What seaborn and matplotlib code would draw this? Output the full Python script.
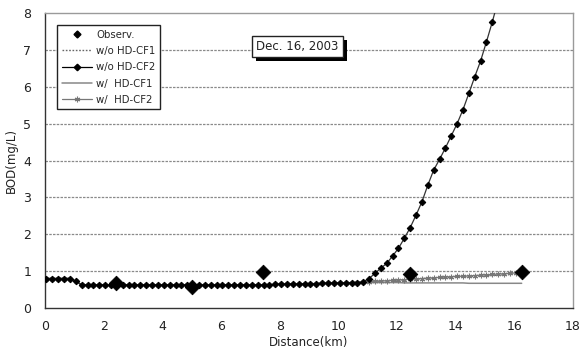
import matplotlib
matplotlib.use("Agg")
import matplotlib.pyplot as plt
import matplotlib.patheffects as pe
from matplotlib.lines import Line2D
import seaborn as sns
import pandas as pd

# ---------------- data ----------------
distance = [0.05, 0.25, 0.45, 0.65, 0.85, 1.05, 1.25, 1.45, 1.65, 1.85,
            2.05, 2.25, 2.45, 2.65, 2.85, 3.05, 3.25, 3.45, 3.65, 3.85,
            4.05, 4.25, 4.45, 4.65, 4.85, 5.05, 5.25, 5.45, 5.65, 5.85,
            6.05, 6.25, 6.45, 6.65, 6.85, 7.05, 7.25, 7.45, 7.65, 7.85,
            8.05, 8.25, 8.45, 8.65, 8.85, 9.05, 9.25, 9.45, 9.65, 9.85,
            10.05, 10.25, 10.45, 10.65, 10.85, 11.05, 11.25, 11.45, 11.65, 11.85,
            12.05, 12.25, 12.45, 12.65, 12.85, 13.05, 13.25, 13.45, 13.65, 13.85,
            14.05, 14.25, 14.45, 14.65, 14.85, 15.05, 15.25, 15.45, 15.65, 15.85,
            16.05, 16.25]

# common upstream part (0.05 .. 10.65 km), shared by all model runs
upstream = [0.80, 0.80, 0.80, 0.80, 0.80, 0.72, 0.63, 0.63, 0.63, 0.63,
            0.63, 0.63, 0.63, 0.63, 0.63, 0.63, 0.63, 0.63, 0.63, 0.63,
            0.63, 0.63, 0.63, 0.63, 0.63, 0.63, 0.63, 0.63, 0.63, 0.63,
            0.63, 0.63, 0.63, 0.63, 0.63, 0.63, 0.63, 0.63, 0.63, 0.64,
            0.65, 0.65, 0.65, 0.65, 0.66, 0.66, 0.66, 0.67, 0.67, 0.68,
            0.68, 0.68, 0.69, 0.69]

# downstream parts (10.85 .. 16.25 km)
wo_cf1_tail = [0.70, 0.71, 0.72, 0.73, 0.74, 0.74, 0.75, 0.76, 0.77, 0.78,
               0.79, 0.80, 0.80, 0.81, 0.82, 0.83, 0.84, 0.84, 0.85, 0.86,
               0.87, 0.88, 0.88, 0.89, 0.90, 0.91, 0.92, 0.93]
wo_cf2_tail = [0.71, 0.80, 0.94, 1.08, 1.21, 1.41, 1.62, 1.89, 2.18, 2.52,
               2.88, 3.33, 3.74, 4.03, 4.34, 4.67, 5.00, 5.38, 5.82, 6.27,
               6.70, 7.22, 7.76, 8.35, 8.95, 9.60, 10.30, 11.00]
w_cf1_tail = [0.69, 0.69, 0.69, 0.69, 0.69, 0.69, 0.69, 0.68, 0.68, 0.68,
              0.68, 0.68, 0.68, 0.68, 0.68, 0.68, 0.68, 0.68, 0.67, 0.67,
              0.67, 0.67, 0.67, 0.67, 0.67, 0.67, 0.67, 0.67]
w_cf2_tail = [0.70, 0.71, 0.72, 0.73, 0.74, 0.75, 0.76, 0.77, 0.78, 0.79,
              0.80, 0.81, 0.82, 0.83, 0.84, 0.85, 0.86, 0.86, 0.87, 0.88,
              0.89, 0.90, 0.91, 0.92, 0.93, 0.94, 0.95, 0.96]

obs_distance = [2.43, 5.02, 7.42, 12.44, 16.25]
obs_bod = [0.67, 0.58, 0.98, 0.91, 0.98]

series_labels = ["w/o HD-CF1", "w/o HD-CF2", "w/  HD-CF1", "w/  HD-CF2"]
x_ticks = [0, 2, 4, 6, 8, 10, 12, 14, 16, 18]
y_ticks = [0, 1, 2, 3, 4, 5, 6, 7, 8]
date_label = "Dec. 16, 2003"

# ---------------- figure ----------------
sns.set_theme(style="white")
plt.rcParams["font.family"] = ["DejaVu Sans"]

fig = plt.figure(figsize=(5.87, 3.58), dpi=100)
ax = fig.add_axes([45 / 587, 50 / 358, 528 / 587, 295 / 358])

# gridlines
for yv in y_ticks[1:-1]:
    ax.axhline(yv, color="#8a8a8a", lw=0.9, ls=(0, (2, 1)), zorder=0)

obs_df = pd.DataFrame({"Distance": obs_distance, "BOD": obs_bod})

def df_for(tail):
    return pd.DataFrame({"Distance": distance, "BOD": upstream + tail})

style_wo1 = dict(color="#666666", lw=1.0, ls=(0, (1.2, 1.2)))
style_w1 = dict(color="#888888", lw=1.1)
style_w2 = dict(color="#777777", lw=0.9, marker=(6, 2, 0), ms=4, mew=0.8,
                mec="#777777")
style_wo2 = dict(color="#333333", lw=0.9, marker="D", ms=3.3, mfc="black",
                 mec="black")

sns.lineplot(data=df_for(wo_cf1_tail), x="Distance", y="BOD", ax=ax,
             zorder=3, legend=False, **style_wo1)
sns.lineplot(data=df_for(w_cf1_tail), x="Distance", y="BOD", ax=ax,
             zorder=2, legend=False, **style_w1)
sns.lineplot(data=df_for(w_cf2_tail), x="Distance", y="BOD", ax=ax,
             zorder=4, legend=False, **style_w2)
sns.lineplot(data=df_for(wo_cf2_tail), x="Distance", y="BOD", ax=ax,
             zorder=5, legend=False, **style_wo2)
sns.scatterplot(data=obs_df, x="Distance", y="BOD", ax=ax, marker="D",
                s=55, color="black", edgecolor="black", zorder=6, legend=False)

ax.set_xlim(0, 18)
ax.set_ylim(0, 8)
ax.set_xticks(x_ticks)
ax.set_yticks(y_ticks)
ax.tick_params(axis="x", direction="in", length=3, width=0.8, color="#444444",
               pad=9, labelsize=9, labelcolor="#222222")
ax.tick_params(axis="y", direction="in", length=0, pad=10, labelsize=9,
               labelcolor="#222222")
ax.set_xlabel("Distance(km)", fontsize=8.5, color="#222222", labelpad=2)
ax.set_ylabel("BOD(mg/L)", fontsize=8.5, color="#222222")
ax.yaxis.set_label_coords(-0.052, 0.5)

for side in ["left", "bottom"]:
    ax.spines[side].set_color("#333333")
    ax.spines[side].set_linewidth(1.0)
for side in ["top", "right"]:
    ax.spines[side].set_color("#9a9a9a")
    ax.spines[side].set_linewidth(1.0)

# legend
handles = [
    Line2D([], [], ls="none", marker="D", ms=3.5, color="black"),
    Line2D([], [], **style_wo1),
    Line2D([], [], **{**style_wo2, "color": "black"}),
    Line2D([], [], **style_w1),
    Line2D([], [], **style_w2),
]
labels = ["Observ.", series_labels[0], series_labels[1], series_labels[2],
          series_labels[3]]
leg = ax.legend(handles, labels, loc="upper left",
                bbox_to_anchor=(0.023, 0.959), borderaxespad=0, frameon=True,
                fancybox=False, fontsize=7.3, handlelength=3.0,
                handletextpad=0.4, labelspacing=0.62, borderpad=0.45,
                framealpha=1, markerscale=1.0)
leg.get_frame().set_edgecolor("#222222")
leg.get_frame().set_linewidth(1.0)

# date box with shadow
t = ax.text(8.61, 7.10, date_label, ha="center", va="center", fontsize=8.5,
            color="#222222",
            bbox=dict(boxstyle="square,pad=0.35", fc="white", ec="#222222",
                      lw=1),
            zorder=8)
t.get_bbox_patch().set_path_effects([
    pe.SimplePatchShadow(offset=(3, -3), shadow_rgbFace="black", alpha=1.0),
    pe.Normal(),
])

fig.savefig("out.png", dpi=100)
